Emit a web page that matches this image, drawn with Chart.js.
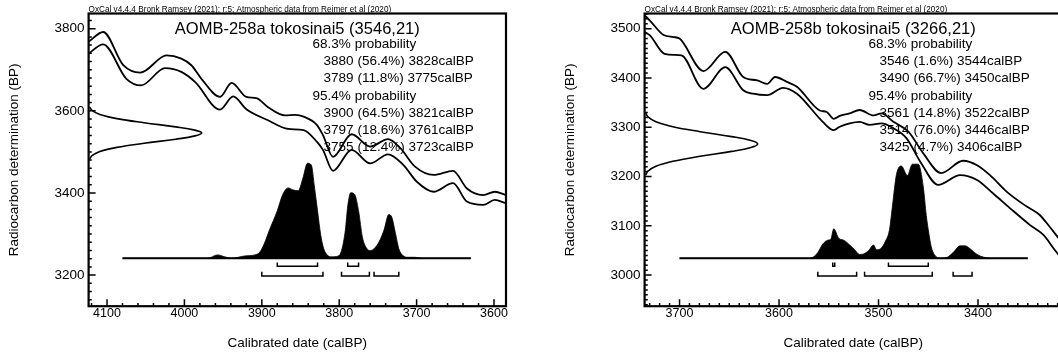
<!DOCTYPE html>
<html>
<head>
<meta charset="utf-8">
<script src="https://cdn.jsdelivr.net/npm/chart.js@4.4.1/dist/chart.umd.min.js"></script>
<style>
  html, body { margin: 0; padding: 0; background: #fff; }
  #wrap { position: relative; width: 1058px; height: 354px; overflow: hidden; background: #fff; }
  #wrap canvas { position: absolute; top: 0; }
</style>
</head>
<body>
<div id="wrap">
  <canvas id="panelA" width="556" height="354" style="left:0"></canvas>
  <canvas id="panelB" width="556" height="354" style="left:556px"></canvas>
</div>
<script>
const FONT = "'Liberation Sans', Arial, sans-serif";
const credit = "OxCal v4.4.4 Bronk Ramsey (2021); r:5; Atmospheric data from Reimer et al (2020)";

// ---- AOMB-258a ----
const aTitle = "AOMB-258a tokosinai5 (3546,21)";
const aXTicks = [4100, 4000, 3900, 3800, 3700, 3600];
const aYTicks = [3800, 3600, 3400, 3200];
// calibration curve, upper and lower 1-sigma lines
const aUpperCal = [4124, 4105, 4079, 4057, 4023, 4004, 3991, 3978, 3954, 3939, 3920, 3907, 3892, 3870, 3857, 3846, 3829, 3821, 3808, 3784, 3760, 3737, 3721, 3702, 3678, 3653, 3635, 3614, 3599, 3585];
const aUpperBP  = [3768, 3792, 3711, 3693, 3735, 3727, 3711, 3678, 3634, 3668, 3634, 3631, 3609, 3589, 3590, 3586, 3566, 3541, 3488, 3543, 3513, 3531, 3509, 3464, 3444, 3454, 3411, 3395, 3403, 3395];
const aLowerCal = [4124, 4105, 4075, 4056, 4025, 4004, 3986, 3954, 3937, 3920, 3892, 3866, 3846, 3829, 3821, 3808, 3784, 3760, 3737, 3717, 3700, 3678, 3653, 3635, 3614, 3599, 3585];
const aLowerBP  = [3739, 3762, 3678, 3662, 3704, 3695, 3670, 3603, 3635, 3604, 3577, 3556, 3553, 3525, 3505, 3454, 3505, 3472, 3494, 3468, 3428, 3403, 3424, 3379, 3371, 3383, 3375];
// radiocarbon measurement (drawn against the y axis)
const aGaussBP = [3609, 3601, 3591, 3581, 3571, 3561, 3553, 3546, 3539, 3531, 3521, 3511, 3501, 3491, 3483];
const aGaussW  = [0.01, 0.03, 0.1, 0.25, 0.49, 0.77, 0.94, 1, 0.94, 0.77, 0.49, 0.25, 0.1, 0.03, 0.01];
// calibrated probability
const aPostCal = [4080, 3970, 3957, 3948, 3939, 3922, 3909, 3903, 3897, 3890, 3880, 3873, 3866, 3860, 3853, 3847, 3841, 3836, 3832, 3828, 3824, 3820, 3815, 3810, 3801, 3797, 3792, 3789, 3785, 3780, 3775, 3770, 3765, 3760, 3755, 3748, 3742, 3736, 3732, 3727, 3723, 3718, 3711, 3702, 3693, 3630];
const aPostP   = [0, 0, 0.035, 0.015, 0, 0.024, 0.035, 0.06, 0.15, 0.3, 0.5, 0.67, 0.74, 0.72, 0.71, 0.84, 1.0, 0.98, 0.75, 0.5, 0.25, 0.1, 0.03, 0.015, 0.024, 0.08, 0.3, 0.55, 0.69, 0.67, 0.5, 0.22, 0.11, 0.08, 0.1, 0.18, 0.3, 0.46, 0.43, 0.25, 0.1, 0.03, 0.01, 0.01, 0, 0];
const aBase = [4080, 3630];
// ranges: from, percent, to
const a68 = [[3880, 56.4, 3828], [3789, 11.8, 3775]];
const a95 = [[3900, 64.5, 3821], [3797, 18.6, 3761], [3755, 12.4, 3723]];

// ---- AOMB-258b ----
const bTitle = "AOMB-258b tokosinai5 (3266,21)";
const bXTicks = [3700, 3600, 3500, 3400];
const bYTicks = [3500, 3400, 3300, 3200, 3100, 3000];
const bUpperCal = [3735, 3730, 3716, 3706, 3700, 3676, 3654, 3636, 3622, 3612, 3604, 3592, 3582, 3559, 3552, 3545, 3539, 3529, 3519, 3505, 3497, 3485, 3470, 3455, 3437, 3415, 3401, 3388, 3371, 3351, 3338, 3328, 3319];
const bUpperBP  = [3527, 3517, 3487, 3483, 3480, 3414, 3453, 3402, 3395, 3388, 3402, 3392, 3382, 3334, 3331, 3317, 3323, 3328, 3335, 3324, 3328, 3311, 3291, 3247, 3207, 3232, 3223, 3203, 3169, 3139, 3122, 3098, 3075];
const bLowerCal = [3735, 3730, 3715, 3705, 3698, 3676, 3654, 3636, 3626, 3612, 3596, 3582, 3556, 3545, 3539, 3529, 3519, 3509, 3497, 3485, 3472, 3458, 3440, 3418, 3401, 3385, 3368, 3348, 3334, 3324, 3319];
const bLowerBP  = [3493, 3487, 3449, 3447, 3446, 3378, 3422, 3375, 3368, 3365, 3380, 3368, 3311, 3294, 3301, 3308, 3311, 3305, 3308, 3298, 3278, 3230, 3183, 3203, 3193, 3166, 3136, 3102, 3081, 3054, 3041];
const bGaussBP = [3329, 3321, 3311, 3301, 3291, 3281, 3273, 3266, 3259, 3251, 3241, 3231, 3221, 3211, 3203];
const bGaussW  = [0.01, 0.03, 0.1, 0.25, 0.49, 0.77, 0.94, 1, 0.94, 0.77, 0.49, 0.25, 0.1, 0.03, 0.01];
const bPostCal = [3700, 3572, 3566, 3561, 3556, 3551, 3548, 3545, 3540, 3535, 3529, 3524, 3519, 3515, 3510, 3505, 3502, 3498, 3493, 3489, 3486, 3482, 3477, 3471, 3466, 3460, 3455, 3452, 3450, 3447, 3444, 3438, 3431, 3425, 3418, 3413, 3408, 3401, 3394, 3384, 3350];
const bPostP   = [0, 0, 0.01, 0.06, 0.15, 0.19, 0.2, 0.31, 0.21, 0.19, 0.14, 0.09, 0.04, 0.045, 0.08, 0.14, 0.09, 0.1, 0.18, 0.3, 0.55, 0.88, 0.97, 0.87, 0.99, 0.99, 0.75, 0.45, 0.3, 0.12, 0.04, 0, 0.01, 0.06, 0.13, 0.13, 0.1, 0.04, 0.01, 0, 0];
const bBase = [3700, 3350];
const b68 = [[3546, 1.6, 3544], [3490, 66.7, 3450]];
const b95 = [[3561, 14.8, 3522], [3514, 76.0, 3446], [3425, 4.7, 3406]];

function zip(xs, ys) {
  return xs.map((x, i) => ({ x: x, y: ys[i] }));
}

// brackets under the distribution, one per range, gaps between them
function brackets(ranges, bar, tip) {
  const pts = [];
  ranges.forEach(r => {
    pts.push({ x: r[0], y: tip }, { x: r[0], y: bar }, { x: r[2], y: bar }, { x: r[2], y: tip }, { x: r[2], y: null });
  });
  return pts;
}

function rangeLines(r68, r95) {
  const fmt = r => ({ text: r[0] + " (" + r[1].toFixed(1) + "%) " + r[2] + "calBP", indent: true });
  return [{ text: "68.3% probability" }].concat(r68.map(fmt), [{ text: "95.4% probability" }], r95.map(fmt));
}

const oxcalDecor = {
  id: "oxcalDecor",
  beforeDatasetsDraw(chart, args, o) {
    const ctx = chart.ctx, a = chart.chartArea;
    ctx.save();
    ctx.fillStyle = "#000";
    ctx.textBaseline = "alphabetic";
    ctx.textAlign = "left";
    ctx.font = "8.2px " + FONT;
    ctx.fillText(credit, a.left, 11.8);
    ctx.textAlign = "center";
    ctx.font = "16.5px " + FONT;
    ctx.fillText(o.title, (a.left + a.right) / 2, 33.8);
    ctx.textAlign = "left";
    ctx.font = "13.5px " + FONT;
    o.lines.forEach((ln, i) => {
      ctx.fillText(ln.text, a.left + (ln.indent ? 235 : 224), 48 + i * 17.2);
    });
    ctx.restore();
  },
  afterDraw(chart, args, o) {
    const ctx = chart.ctx, a = chart.chartArea;
    const xs = chart.scales.x, ys = chart.scales.y;
    ctx.save();
    ctx.strokeStyle = "#000";
    ctx.lineWidth = 1.5;
    ctx.beginPath();
    for (let v = Math.ceil(xs.min / o.xMinor) * o.xMinor; v <= xs.max; v += o.xMinor) {
      const px = xs.getPixelForValue(v);
      const len = v % o.xMajor === 0 ? 7 : 3.2;
      ctx.moveTo(px, a.bottom);
      ctx.lineTo(px, a.bottom - len);
    }
    for (let v = Math.ceil(ys.min / o.yMinor) * o.yMinor; v <= ys.max; v += o.yMinor) {
      const py = ys.getPixelForValue(v);
      const len = v % o.yMajor === 0 ? 7 : 3.2;
      ctx.moveTo(a.left, py);
      ctx.lineTo(a.left + len, py);
    }
    ctx.stroke();
    ctx.lineWidth = 2.2;
    ctx.strokeRect(a.left, a.top, a.right - a.left, a.bottom - a.top);
    ctx.restore();
  }
};

function makePanel(id, p) {
  const ctx = document.getElementById(id).getContext("2d");
  const line = { borderColor: "#000", pointRadius: 0, fill: false };
  new Chart(ctx, {
    type: "line",
    data: {
      datasets: [
        Object.assign({ data: zip(p.upperCal, p.upperBP), borderWidth: 1.8, cubicInterpolationMode: "monotone", xAxisID: "x", yAxisID: "y" }, line),
        Object.assign({ data: zip(p.lowerCal, p.lowerBP), borderWidth: 1.8, cubicInterpolationMode: "monotone", xAxisID: "x", yAxisID: "y" }, line),
        Object.assign({ data: zip(p.gaussW, p.gaussBP), borderWidth: 1.6, tension: 0.4, xAxisID: "xg", yAxisID: "y" }, line),
        Object.assign({ data: zip(p.base, [0, 0]), borderWidth: 2, xAxisID: "x", yAxisID: "yp" }, line),
        Object.assign({ data: brackets(p.r68, -0.085, -0.045), borderWidth: 1.5, xAxisID: "x", yAxisID: "yp" }, line),
        Object.assign({ data: brackets(p.r95, -0.187, -0.142), borderWidth: 1.5, xAxisID: "x", yAxisID: "yp" }, line),
        { data: zip(p.postCal, p.postP), borderColor: "#000", backgroundColor: "#000", borderWidth: 0.8, pointRadius: 0,
          fill: "origin", cubicInterpolationMode: "monotone", xAxisID: "x", yAxisID: "yp" }
      ]
    },
    options: {
      responsive: false,
      animation: false,
      events: [],
      layout: { padding: { left: 0, top: 13.5, right: 50, bottom: 0 } },
      plugins: {
        legend: { display: false },
        tooltip: { enabled: false },
        oxcalDecor: { title: p.title, lines: rangeLines(p.r68, p.r95),
          xMinor: p.xMinor, xMajor: 100, yMinor: p.yMinor, yMajor: p.yMajor }
      },
      scales: {
        x: {
          type: "linear", position: "bottom", reverse: true, min: p.xMin, max: p.xMax,
          grid: { display: false, drawTicks: false }, border: { display: false },
          ticks: { font: { family: FONT, size: 12.5 }, color: "#000", padding: 0, autoSkip: false, maxRotation: 0,
            callback: v => String(v) },
          afterBuildTicks: s => { s.ticks = p.xTicks.map(v => ({ value: v })); },
          afterFit: s => { s.height = 47.8; },
          title: { display: true, text: "Calibrated date (calBP)", color: "#000",
            font: { family: FONT, size: 13.5 }, padding: { top: 0, bottom: 3 } }
        },
        y: {
          type: "linear", position: "left", min: p.yMin, max: p.yMax,
          grid: { display: false, drawTicks: false }, border: { display: false },
          ticks: { font: { family: FONT, size: 13.5 }, color: "#000", padding: 4, autoSkip: false,
            callback: v => String(v) },
          afterBuildTicks: s => { s.ticks = p.yTicks.map(v => ({ value: v })); },
          afterFit: s => { s.width = 88.6; },
          title: { display: true, text: "Radiocarbon determination (BP)", color: "#000",
            font: { family: FONT, size: 13.5 }, padding: { top: 6, bottom: 0 } }
        },
        xg: { type: "linear", display: false, position: "top", min: 0, max: 3.69 },
        yp: { type: "linear", display: false, position: "right", min: -0.505, max: 2.576 }
      }
    },
    plugins: [oxcalDecor]
  });
}

makePanel("panelA", {
  title: aTitle, xTicks: aXTicks, yTicks: aYTicks,
  xMin: 3584.5, xMax: 4123.8, yMin: 3124.3, yMax: 3837, xMinor: 20, yMinor: 20, yMajor: 200,
  upperCal: aUpperCal, upperBP: aUpperBP, lowerCal: aLowerCal, lowerBP: aLowerBP,
  gaussBP: aGaussBP, gaussW: aGaussW, postCal: aPostCal, postP: aPostP, base: aBase,
  r68: a68, r95: a95
});

makePanel("panelB", {
  title: bTitle, xTicks: bXTicks, yTicks: bYTicks,
  xMin: 3315.6, xMax: 3735.1, yMin: 2936.9, yMax: 3530.8, xMinor: 10, yMinor: 10, yMajor: 100,
  upperCal: bUpperCal, upperBP: bUpperBP, lowerCal: bLowerCal, lowerBP: bLowerBP,
  gaussBP: bGaussBP, gaussW: bGaussW, postCal: bPostCal, postP: bPostP, base: bBase,
  r68: b68, r95: b95
});
</script>
</body>
</html>
